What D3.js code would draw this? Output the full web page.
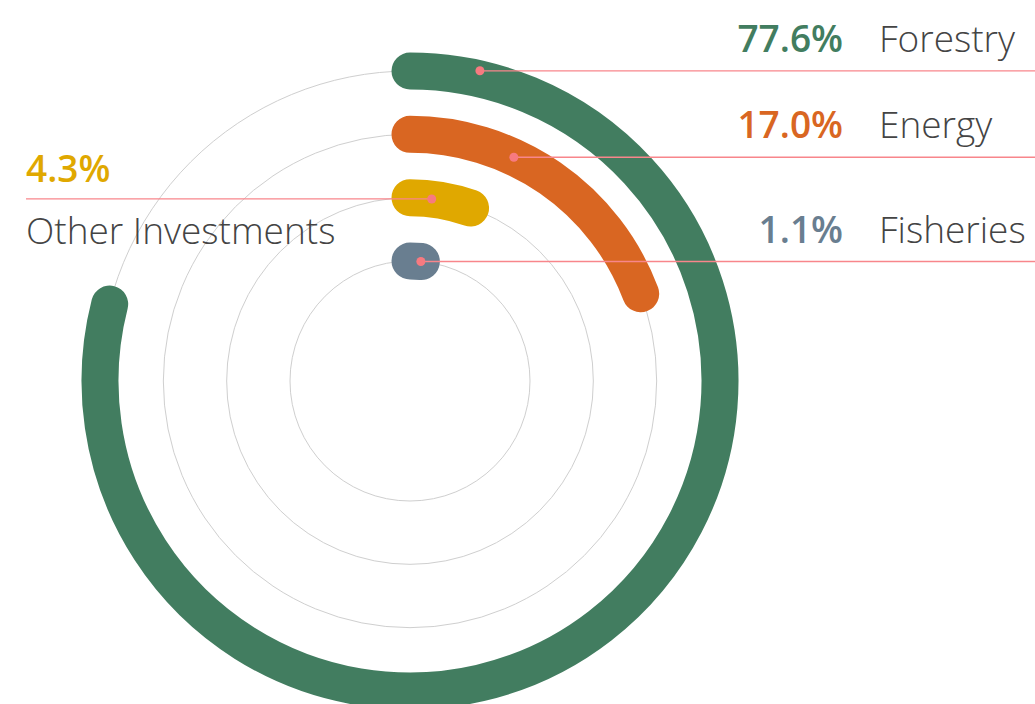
<!DOCTYPE html>
<html>
<head>
<meta charset="utf-8">
<script src="https://cdn.jsdelivr.net/npm/d3@7"></script>
<style>
  html, body { margin: 0; padding: 0; background: #fff; }
  svg { display: block; font-family: 'Open Sans', sans-serif; }
</style>
</head>
<body>
<svg width="1035" height="704"></svg>
<script>
const categories = ['Forestry', 'Energy', 'Other Investments', 'Fisheries'];
const shares = [77.6, 17.0, 4.3, 1.1];
const colors = ['#427d60', '#d96622', '#e0a800', '#697e90'];

const svg = d3.select('svg');
const cx = 410, cy = 381;
const barWidth = 37;

const radius = d3.scaleLinear().domain([0, categories.length - 1]).range([310, 120]);
const angle = d3.scalePow().exponent(0.93).domain([0, 100]).range([0, 2 * Math.PI]);

// where each leader line leaves its bar (angle in degrees, radial nudge)
const leaders = [
  { deg: 12.7, dr: 8, side: 'right', pctY: -19, nameY: -19 },
  { deg: 24.9, dr: 0, side: 'right', pctY: -19, nameY: -19 },
  { deg: 6.8, dr: 0, side: 'left', pctY: -17, nameY: 45 },
  { deg: 5.2, dr: 0, side: 'right', pctY: -18, nameY: -18 }
];

const g = svg.append('g').attr('transform', `translate(${cx},${cy})`);

// gray guide circles
g.selectAll('circle.guide')
  .data(categories)
  .enter()
  .append('circle')
  .attr('class', 'guide')
  .attr('r', (d, i) => radius(i))
  .attr('fill', 'none')
  .attr('stroke', '#cfcfcf')
  .attr('stroke-width', 1);

const arcPath = (r, a) => {
  const p = d3.path();
  p.arc(0, 0, r, -Math.PI / 2, a - Math.PI / 2);
  return p.toString();
};

g.selectAll('path.bar')
  .data(shares)
  .enter()
  .append('path')
  .attr('class', 'bar')
  .attr('d', (d, i) => arcPath(radius(i), angle(d)))
  .attr('fill', 'none')
  .attr('stroke', (d, i) => colors[i])
  .attr('stroke-width', barWidth)
  .attr('stroke-linecap', 'round');

// leader lines, dots and labels
const rightPct = 843, rightName = 879, leftX = 26;

categories.forEach((name, i) => {
  const L = leaders[i];
  const a = L.deg * Math.PI / 180;
  const r = radius(i) + L.dr;
  const x = cx + r * Math.sin(a);
  const y = cy - r * Math.cos(a);

  svg.append('line')
    .attr('x1', x).attr('y1', y)
    .attr('x2', L.side === 'right' ? 1035 : leftX).attr('y2', y)
    .attr('stroke', '#f8868b')
    .attr('stroke-width', 1.3);

  svg.append('circle')
    .attr('cx', x).attr('cy', y).attr('r', 4.5)
    .attr('fill', '#f77a80');

  const pct = d3.format('.1f')(shares[i]) + '%';
  const right = L.side === 'right';
  svg.append('text')
    .attr('x', right ? rightPct : leftX).attr('y', y + L.pctY)
    .attr('text-anchor', right ? 'end' : 'start')
    .attr('font-size', 37).attr('font-weight', 600)
    .attr('fill', colors[i])
    .text(pct);
  svg.append('text')
    .attr('x', right ? rightName : leftX).attr('y', y + L.nameY)
    .attr('font-size', 37).attr('font-weight', 300)
    .attr('fill', '#444')
    .text(name);
});
</script>
</body>
</html>
